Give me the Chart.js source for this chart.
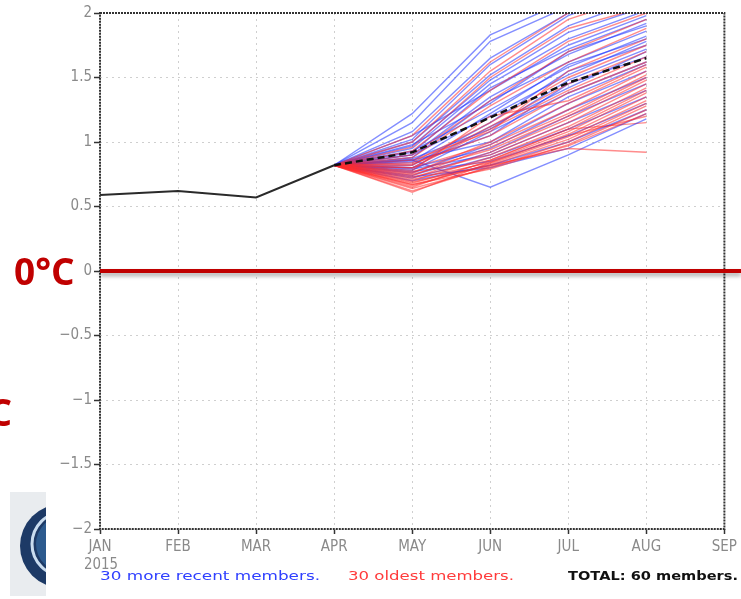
<!DOCTYPE html>
<html>
<head>
<meta charset="utf-8">
<script src="https://cdn.jsdelivr.net/npm/chart.js@4/dist/chart.umd.min.js"></script>
<style>
  html, body { margin: 0; padding: 0; background: #fff; }
  #wrap { position: relative; width: 741px; height: 599px; }
</style>
</head>
<body>
<div id="wrap"><canvas id="plumeChart" width="741" height="599"></canvas></div>
<script>
// ==================== DATA ====================
const months = ['JAN', 'FEB', 'MAR', 'APR', 'MAY', 'JUN', 'JUL', 'AUG', 'SEP'];
const yTicks = [-2, -1.5, -1, -0.5, 0, 0.5, 1, 1.5, 2];

// observed anomaly JAN..APR
const observed = [0.59, 0.62, 0.57, 0.82];
const startValue = 0.82; // APR, where members start

// ensemble mean MAY..AUG
const ensembleMean = [0.92, 1.19, 1.46, 1.65];

// 30 more recent members, MAY..AUG
const recentMembers = [
    [1.22, 1.83, 2.10, 2.35], [1.15, 1.78, 2.05, 2.30], [1.08, 1.65, 2.00, 2.25],
    [1.02, 1.60, 1.98, 2.20], [1.00, 1.52, 1.90, 2.12], [0.97, 1.48, 1.85, 2.05],
    [0.95, 1.45, 1.80, 2.02], [1.05, 1.40, 1.75, 1.98], [0.92, 1.42, 1.72, 1.95],
    [0.90, 1.35, 1.68, 1.92], [0.98, 1.30, 1.70, 1.90], [0.88, 1.32, 1.62, 1.86],
    [0.93, 1.25, 1.58, 1.82], [0.85, 1.22, 1.60, 1.80], [0.90, 1.20, 1.52, 1.78],
    [0.82, 1.15, 1.55, 1.75], [0.87, 1.10, 1.48, 1.72], [0.80, 1.12, 1.42, 1.70],
    [0.84, 1.05, 1.45, 1.66], [0.78, 1.08, 1.38, 1.62], [0.86, 1.00, 1.35, 1.60],
    [0.76, 0.98, 1.30, 1.55], [0.80, 0.95, 1.25, 1.50], [0.74, 0.92, 1.20, 1.45],
    [0.79, 0.90, 1.15, 1.40], [0.72, 0.88, 1.10, 1.35], [0.77, 0.85, 1.05, 1.30],
    [0.70, 0.82, 1.00, 1.25], [0.86, 0.65, 0.90, 1.18], [0.73, 0.80, 0.95, 1.22]
];

// 30 oldest members, MAY..AUG
const oldestMembers = [
    [1.05, 1.62, 2.00, 2.30], [1.00, 1.55, 1.95, 2.15], [0.96, 1.50, 1.88, 2.05],
    [0.93, 1.40, 1.78, 2.00], [0.90, 1.32, 1.70, 1.95], [0.88, 1.28, 1.62, 1.88],
    [0.86, 1.08, 1.55, 1.80], [0.84, 1.15, 1.50, 1.75], [0.82, 1.12, 1.45, 1.70],
    [0.80, 1.10, 1.40, 1.66], [0.83, 1.05, 1.38, 1.62], [0.78, 1.20, 1.32, 1.60],
    [0.76, 1.00, 1.30, 1.58], [0.80, 0.98, 1.25, 1.55], [0.74, 0.96, 1.22, 1.52],
    [0.77, 0.94, 1.20, 1.50], [0.72, 0.92, 1.18, 1.48], [0.75, 0.90, 1.15, 1.45],
    [0.70, 0.88, 1.12, 1.42], [0.73, 0.86, 1.10, 1.40], [0.68, 0.85, 1.08, 1.38],
    [0.71, 0.84, 1.06, 1.35], [0.66, 0.83, 1.04, 1.32], [0.69, 0.82, 1.02, 1.30],
    [0.64, 0.80, 1.00, 1.28], [0.67, 0.79, 0.98, 1.25], [0.62, 0.81, 0.97, 1.22],
    [0.67, 0.82, 0.95, 0.92], [0.61, 0.84, 1.05, 1.20], [0.65, 0.86, 1.10, 1.15]
];

const legendTexts = ['30 more recent members.', '30 oldest members.', 'TOTAL: 60 members.'];

// ==================== HELPERS ====================
const BLUE = 'rgba(30, 50, 255, 0.55)';
const RED = 'rgba(255, 45, 45, 0.55)';
const tickFont = "'Liberation Sans Narrow', 'DejaVu Sans Condensed', sans-serif";

function memberSeries(vals) {
    return [null, null, null, startValue].concat(vals);
}

function fmtTick(v) {
    if (v === 0) return '0';
    return (v < 0 ? '\u2212' : '') + Math.abs(v);
}

// stretch text horizontally so it fills a given width
function stretchText(ctx, text, x, y, width) {
    const w = ctx.measureText(text).width;
    ctx.save();
    ctx.translate(x, y);
    ctx.scale(width / w, 1);
    ctx.fillText(text, 0, 0);
    ctx.restore();
}

const datasets = [];
datasets.push({
    data: observed.concat([null, null, null, null, null]),
    borderColor: '#2a2a2a', borderWidth: 2, pointRadius: 0, order: 0
});
datasets.push({
    data: [null, null, null, startValue].concat(ensembleMean),
    borderColor: '#111', borderWidth: 2.5, borderDash: [7, 4], pointRadius: 0, order: 1
});
for (let i = 0; i < 30; i++) {
    datasets.push({ data: memberSeries(recentMembers[i]), borderColor: BLUE, borderWidth: 1.4, pointRadius: 0, order: 2 + i * 2 });
    datasets.push({ data: memberSeries(oldestMembers[i]), borderColor: RED, borderWidth: 1.4, pointRadius: 0, order: 3 + i * 2 });
}

// ==================== DECORATION PLUGIN ====================
const decorations = {
    id: 'decorations',
    afterDraw(chart) {
        const ctx = chart.ctx;
        const area = chart.chartArea;
        const y = chart.scales.y;

        // plot frame
        ctx.save();
        ctx.strokeStyle = '#333';
        ctx.lineWidth = 2;
        ctx.setLineDash([2, 1]);
        ctx.strokeRect(area.left, area.top, area.right - area.left, area.bottom - area.top);
        ctx.restore();

        // 0°C reference line with shadow
        const y0 = y.getPixelForValue(0);
        ctx.save();
        ctx.shadowColor = 'rgba(0,0,0,0.35)';
        ctx.shadowBlur = 4;
        ctx.shadowOffsetY = 3;
        ctx.strokeStyle = '#c00000';
        ctx.lineWidth = 4;
        ctx.beginPath();
        ctx.moveTo(area.left, y0);
        ctx.lineTo(chart.width, y0);
        ctx.stroke();
        ctx.restore();

        // big red labels
        ctx.save();
        ctx.fillStyle = '#c00000';
        ctx.font = "bold 37px 'Open Sans', sans-serif";
        ctx.textBaseline = 'alphabetic';
        ctx.textAlign = 'left';
        ctx.fillText('0°C', 14, y0 + 14);
        ctx.textAlign = 'right';
        ctx.fillText('-1°C', 12, y.getPixelForValue(-1) + 26);
        ctx.restore();

        // logo fragment bottom-left
        ctx.save();
        ctx.beginPath();
        ctx.rect(10, 492, 36, 104);
        ctx.clip();
        ctx.fillStyle = '#e9ecef';
        ctx.fillRect(10, 492, 36, 104);
        ctx.beginPath();
        ctx.arc(62, 546, 42, 0, Math.PI * 2);
        ctx.fillStyle = '#1d3a66';
        ctx.fill();
        ctx.beginPath();
        ctx.arc(64, 544, 32, 0, Math.PI * 2);
        ctx.strokeStyle = '#c9dcef';
        ctx.lineWidth = 3;
        ctx.stroke();
        ctx.beginPath();
        ctx.arc(64, 544, 28, 0, Math.PI * 2);
        ctx.fillStyle = '#2c5a8e';
        ctx.fill();
        ctx.restore();

        // year under first month
        ctx.save();
        ctx.fillStyle = '#8a8a8a';
        ctx.font = '15px ' + tickFont;
        ctx.textAlign = 'left';
        ctx.textBaseline = 'alphabetic';
        stretchText(ctx, '2015', 84, 569, 34);
        ctx.restore();

        // legend line
        ctx.save();
        ctx.textBaseline = 'alphabetic';
        ctx.textAlign = 'left';
        ctx.font = "13px 'DejaVu Sans', sans-serif";
        ctx.fillStyle = '#3040ff';
        stretchText(ctx, legendTexts[0], 100, 580, 220);
        ctx.fillStyle = '#ff3b3b';
        stretchText(ctx, legendTexts[1], 348, 580, 166);
        ctx.fillStyle = '#111';
        ctx.font = "bold 13px 'DejaVu Sans', sans-serif";
        stretchText(ctx, legendTexts[2], 568, 580, 170);
        ctx.restore();
    }
};

// ==================== CHART ====================
new Chart(document.getElementById('plumeChart'), {
    type: 'line',
    data: { labels: months, datasets: datasets },
    options: {
        responsive: false,
        animation: false,
        layout: { padding: { top: 13, right: 15, left: 0, bottom: 0 } },
        elements: { line: { tension: 0 } },
        plugins: { legend: { display: false }, tooltip: { enabled: false } },
        scales: {
            x: {
                type: 'category',
                offset: false,
                grid: {
                    color: '#cfcfcf',
                    lineWidth: 1,
                    tickColor: '#333',
                    tickLength: 5,
                    tickWidth: 1.5,
                    tickBorderDash: []
                },
                border: { display: false, dash: [2, 4] },
                ticks: {
                    color: '#8a8a8a',
                    font: { family: tickFont, size: 15 },
                    padding: 4,
                    maxRotation: 0,
                    autoSkip: false
                },
                afterFit: s => { s.height = 70; }
            },
            y: {
                min: -2,
                max: 2,
                afterBuildTicks: s => { s.ticks = yTicks.map(v => ({ value: v })); },
                grid: {
                    color: '#cfcfcf',
                    lineWidth: 1,
                    tickColor: '#333',
                    tickLength: 6,
                    tickWidth: 1.5,
                    tickBorderDash: []
                },
                border: { display: false, dash: [2, 4] },
                ticks: {
                    color: '#8a8a8a',
                    font: { family: tickFont, size: 15 },
                    padding: 2,
                    callback: v => fmtTick(v)
                },
                afterFit: s => { s.width = 100; }
            }
        }
    },
    plugins: [decorations]
});
</script>
</body>
</html>
